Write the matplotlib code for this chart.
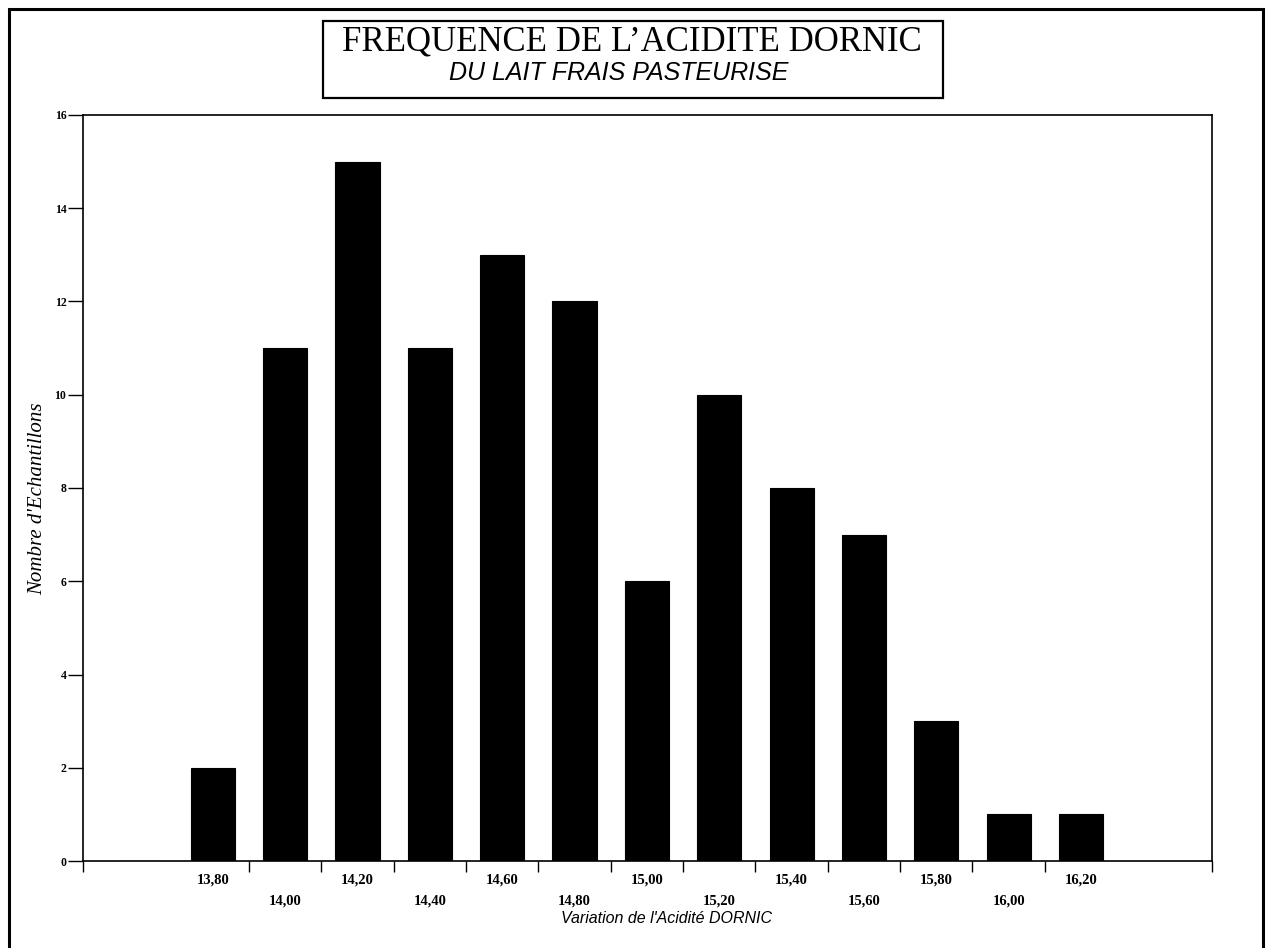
import matplotlib.pyplot as plt
import matplotlib.transforms as mtransforms
from matplotlib.patches import Rectangle

# Data
acidite = ["13,60", "13,80", "14,00", "14,20", "14,40", "14,60", "14,80",
           "15,00", "15,20", "15,40", "15,60", "15,80", "16,00", "16,20"]
effectifs = [0, 2, 11, 15, 11, 13, 12, 6, 10, 8, 7, 3, 1, 1]
labels_affiches = [""] + acidite[1:]   # the empty 13,60 class has no label

W, H = 1272, 948
fig = plt.figure(figsize=(W / 100, H / 100), dpi=100)
ax = fig.add_axes([83 / W, 1 - 861 / H, 1129 / W, 746 / H])

x = list(range(len(acidite)))
ax.bar(x, effectifs, width=0.61, color="black", edgecolor="black", linewidth=0.8)

ax.set_xlim(-0.793, 14.81)
ax.set_ylim(0, 16)

for side in ax.spines:
    ax.spines[side].set_linewidth(1.2)

# y axis
ax.set_yticks(range(0, 17, 2))
ax.tick_params(axis="y", direction="out", length=11, width=1, pad=1)
for t in ax.get_yticklabels():
    t.set_fontfamily("Liberation Serif")
    t.set_fontweight("bold")
    t.set_fontsize(8.5)

# x axis: tick marks on class boundaries, labels staggered under the bars
bornes = [ax.get_xlim()[0]] + [i + 0.5 for i in range(1, 13)] + [ax.get_xlim()[1]]
ax.set_xticks(bornes)
ax.set_xticklabels([])
ax.tick_params(axis="x", direction="out", length=8, width=1)

trans = mtransforms.blended_transform_factory(ax.transData, ax.transAxes)
for i, lab in enumerate(labels_affiches):
    if not lab:
        continue
    yy = -0.0255 if i % 2 == 1 else -0.0535
    ax.text(i, yy, lab, transform=trans, ha="center", va="center",
            fontfamily="Liberation Serif", fontweight="bold", fontsize=10.5)

ax.set_xlabel("Variation de l'Acidité DORNIC", fontfamily="Liberation Sans",
              fontstyle="italic", fontsize=11.5)
ax.xaxis.set_label_coords(0.517, -0.0665)
ax.set_ylabel("Nombre d'Echantillons", fontfamily="Liberation Serif",
              fontstyle="italic", fontsize=15)
ax.yaxis.set_label_coords(-0.032, 0.485)

# title box
fig.patches.append(Rectangle((323 / W, 1 - 98 / H), 620 / W, 77 / H,
                             transform=fig.transFigure, fill=False,
                             edgecolor="black", linewidth=1.6))
fig.text(632 / W, 1 - 51 / H, "FREQUENCE DE L\u2019ACIDITE DORNIC",
         ha="center", va="baseline", fontfamily="Liberation Serif", fontsize=25)
fig.text(619 / W, 1 - 80 / H, "DU LAIT FRAIS PASTEURISE",
         ha="center", va="baseline", fontfamily="Liberation Sans",
         fontstyle="italic", fontsize=18)

# outer page frame
fig.patches.append(Rectangle((9 / W, -0.05), 1254 / W, 1.05 - 9 / H,
                             transform=fig.transFigure, fill=False,
                             edgecolor="black", linewidth=2.2))

fig.savefig("out.png", dpi=100)
